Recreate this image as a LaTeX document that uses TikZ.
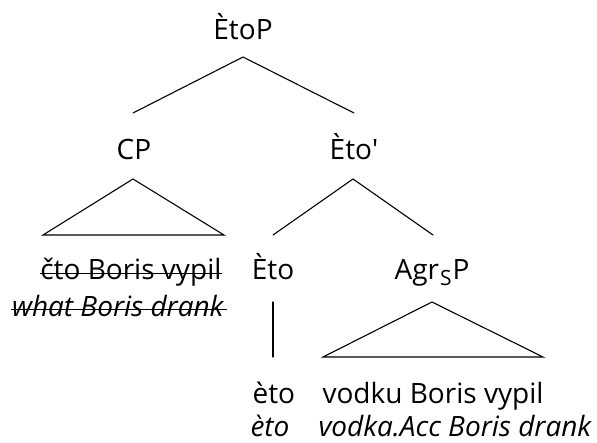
\documentclass[tikz,border=0pt]{standalone}
\usepackage{fontspec}
\setmainfont{Open Sans}
% same face without the TeX quote mapping, for a straight prime
\newfontfamily\straightfont{Open Sans}
\begin{document}
\begin{tikzpicture}[x=1pt,y=-1pt,
    line width=1.1pt,
    lbl/.style={font=\fontsize{28}{33}\selectfont, inner sep=0pt},
    gloss/.style={font=\fontsize{28}{33}\selectfont\itshape, inner sep=0pt},
    edge/.style={line cap=round, line join=miter},
    strike/.style={line width=1pt}]
\useasboundingbox (0,0) rectangle (597,443);

% category labels
\node[lbl, anchor=base] (etoP)  at (243,40)  {ÈtoP};
\node[lbl, anchor=base] (cp)    at (134,160) {CP};
\node[lbl, anchor=base] (etoB)  at (354,160) {Èto{\straightfont '}};
\node[lbl, anchor=base] (eto)   at (273,280) {Èto};
\node[lbl, anchor=base] (agrsp) at (432,280)
  {Agr\kern1pt\raisebox{-6pt}{\fontsize{21}{21}\selectfont S}\kern1pt P};

% terminal strings and glosses
\node[lbl, anchor=base east]   (cto)   at (222,280) {čto Boris vypil};
\node[gloss, anchor=base east] (what)  at (224,317) {what Boris drank};
\node[lbl, anchor=base west]   (eto1)  at (252,403) {èto};
\node[lbl, anchor=base west]   (vodku) at (322,403) {vodku Boris vypil};
\node[gloss, anchor=base west] (eto2)  at (250,436) {èto};
\node[gloss, anchor=base west] (vodka) at (318,436) {vodka.Acc Boris drank};

% struck-out copy of the moved CP
\draw[strike] ([yshift=6pt]cto.base west)  -- ([yshift=6pt]cto.base east);
\draw[strike] ([yshift=7pt]what.base west) -- ([yshift=7pt,xshift=3pt]what.base east);

% branch points
\coordinate (etoP-b)  at (243,57);
\coordinate (cp-t)    at (133,113);
\coordinate (etoB-t)  at (354,113);
\coordinate (cp-b)    at (133,179);
\coordinate (cp-l)    at (43,235);
\coordinate (cp-r)    at (224,235);
\coordinate (etoB-b)  at (353,179);
\coordinate (eto-t)   at (273,235);
\coordinate (agr-t)   at (433,235);
\coordinate (eto-b)   at (273,302);
\coordinate (eto1-t)  at (273,357);
\coordinate (agr-b)   at (432,302);
\coordinate (agr-l)   at (323,357);
\coordinate (agr-r)   at (543,357);

% branches
\draw[edge] (cp-t) -- (etoP-b) -- (etoB-t);
\draw[edge] (cp-b) -- (cp-l) -- (cp-r) -- cycle;
\draw[edge] (eto-t) -- (etoB-b) -- (agr-t);
\draw[edge] (eto-b) -- (eto1-t);
\draw[edge] (agr-b) -- (agr-l) -- (agr-r) -- cycle;
\end{tikzpicture}
\end{document}
